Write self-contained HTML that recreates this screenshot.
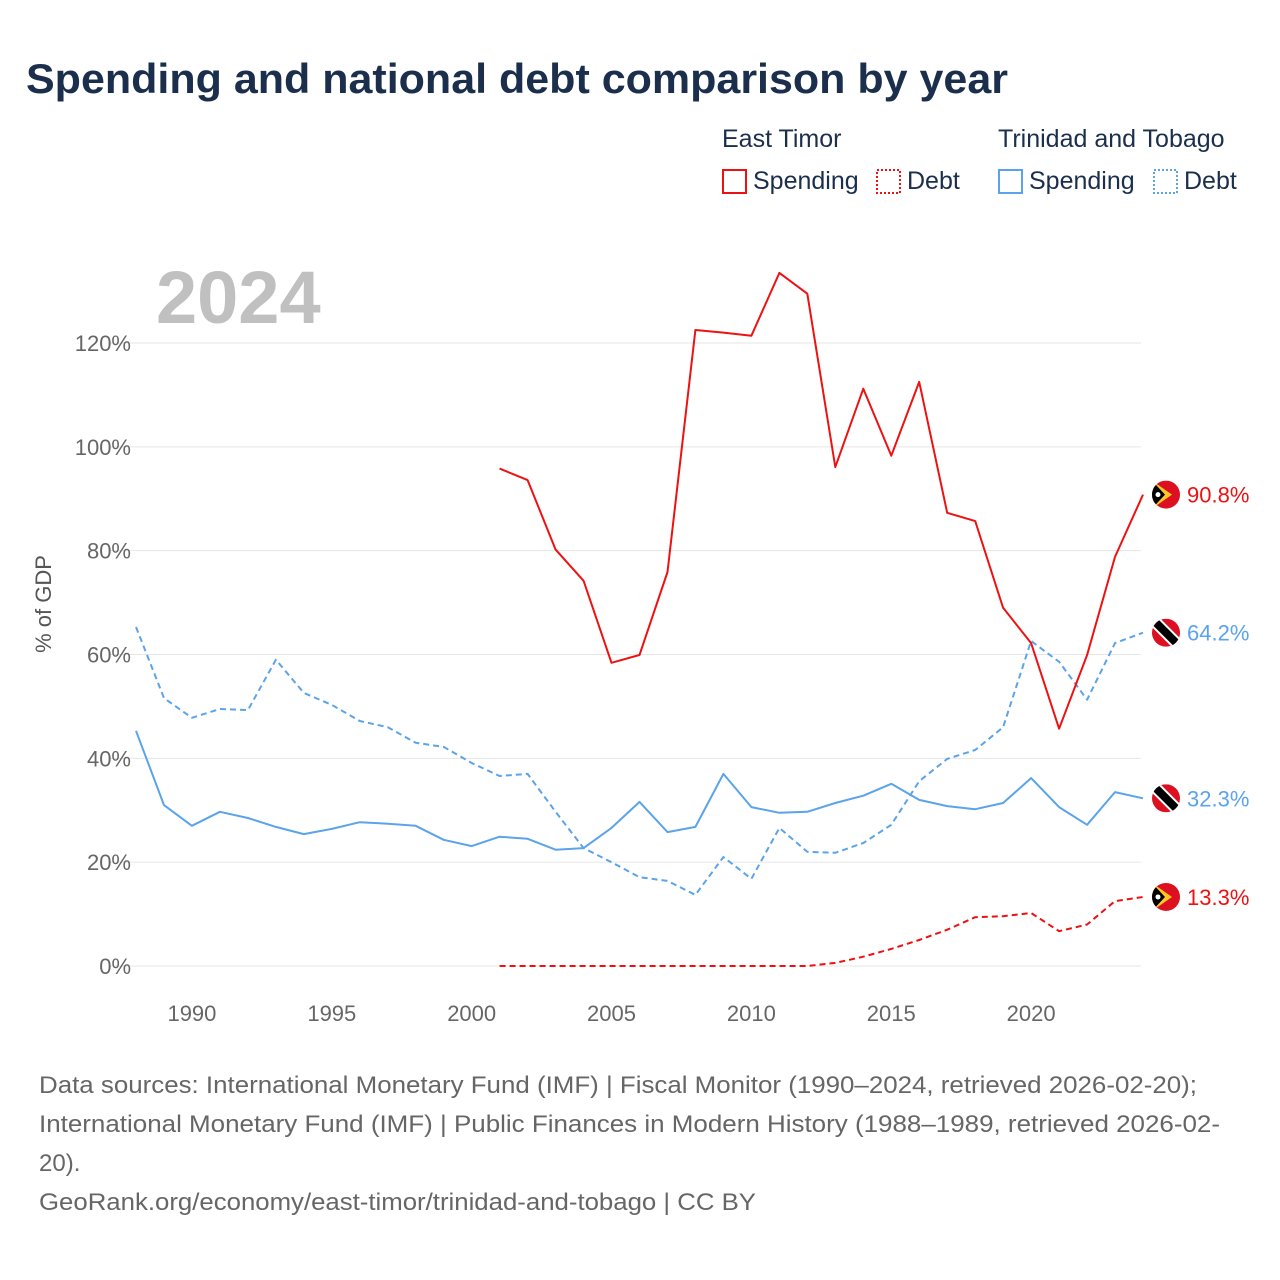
<!DOCTYPE html>
<html><head><meta charset="utf-8"><style>
body{margin:0;background:#fff;font-family:"Liberation Sans",sans-serif;}
#wrap{position:relative;width:1280px;height:1280px;overflow:hidden;}
</style></head><body>
<div id="wrap">
<svg id="chart" width="1280" height="1280" xmlns="http://www.w3.org/2000/svg">
<text x="26" y="93" font-size="42" font-weight="bold" fill="#1b2f4d" textLength="982" lengthAdjust="spacingAndGlyphs" font-family="Liberation Sans, sans-serif">Spending and national debt comparison by year</text>
<g font-size="25" fill="#1b2f4d">
<text x="722" y="147">East Timor</text>
<text x="998" y="147">Trinidad and Tobago</text>
<g><rect x="723" y="170" width="23" height="23" fill="none" stroke="#ee1111" stroke-width="2"/><text x="753" y="189">Spending</text></g>
<g><rect x="877" y="170" width="23" height="23" fill="none" stroke="#ee1111" stroke-width="2" stroke-dasharray="2,2"/><text x="907" y="189">Debt</text></g>
<g><rect x="999" y="170" width="23" height="23" fill="none" stroke="#5ba3ea" stroke-width="2"/><text x="1029" y="189">Spending</text></g>
<g><rect x="1154" y="170" width="23" height="23" fill="none" stroke="#5ba3ea" stroke-width="2" stroke-dasharray="2,2"/><text x="1184" y="189">Debt</text></g>
</g>
<text x="156" y="323" font-size="74" font-weight="bold" fill="#c0c0c0">2024</text>
<text transform="translate(51,604) rotate(-90)" text-anchor="middle" font-size="22" fill="#555">% of GDP</text>
<g id="grid"></g><g id="series"></g><g id="ends"></g>
<g font-size="24" fill="#666">
<text x="39" y="1093" textLength="1158" lengthAdjust="spacingAndGlyphs">Data sources: International Monetary Fund (IMF) | Fiscal Monitor (1990–2024, retrieved 2026-02-20);</text>
<text x="39" y="1132" textLength="1181" lengthAdjust="spacingAndGlyphs">International Monetary Fund (IMF) | Public Finances in Modern History (1988–1989, retrieved 2026-02-</text>
<text x="39" y="1171">20).</text>
<text x="39" y="1210" textLength="717" lengthAdjust="spacingAndGlyphs">GeoRank.org/economy/east-timor/trinidad-and-tobago | CC BY</text>
</g>
</svg></div>
<script>
const yTicks=[0,20,40,60,80,100,120];
const xTicks=[1990,1995,2000,2005,2010,2015,2020];
const etYears=[2001,2002,2003,2004,2005,2006,2007,2008,2009,2010,2011,2012,2013,2014,2015,2016,2017,2018,2019,2020,2021,2022,2023,2024];
const etSpending=[95.8,93.6,80.2,74.2,58.4,59.9,75.9,122.5,122,121.4,133.5,129.5,96.1,111.2,98.3,112.5,87.3,85.7,69,62.2,45.7,59.9,78.8,90.8];
const etDebt=[0,0,0,0,0,0,0,0,0,0,0,0,0.6,1.8,3.3,5,7,9.4,9.6,10.2,6.7,8,12.5,13.3];
const ttYears=[1988,1989,1990,1991,1992,1993,1994,1995,1996,1997,1998,1999,2000,2001,2002,2003,2004,2005,2006,2007,2008,2009,2010,2011,2012,2013,2014,2015,2016,2017,2018,2019,2020,2021,2022,2023,2024];
const ttSpending=[45.3,31,27,29.7,28.5,26.8,25.4,26.4,27.7,27.4,27,24.3,23.1,24.9,24.5,22.4,22.7,26.6,31.6,25.8,26.8,37,30.6,29.5,29.7,31.4,32.8,35.1,32,30.8,30.2,31.4,36.2,30.6,27.2,33.5,32.3];
const ttDebt=[65.3,51.6,47.8,49.5,49.3,59,52.6,50.3,47.2,46,43,42.2,39.1,36.6,37,29.7,22.7,20,17.1,16.4,13.7,21,16.8,26.6,22,21.8,23.7,27.2,35.6,39.9,41.6,46,62.6,58.6,51.3,62.2,64.2];
const NS="http://www.w3.org/2000/svg";
const X=y=>136+(y-1988)*(1143-136)/36;
const Y=v=>966-v*(966-343)/120;
function mk(t,a,p){const e=document.createElementNS(NS,t);for(const k in a)e.setAttribute(k,a[k]);p.appendChild(e);return e;}
const grid=document.getElementById('grid');
yTicks.forEach(v=>{
 const l=mk('line',{x1:110,x2:1141,y1:Y(v),y2:Y(v),stroke:'#e6e6e6','stroke-width':1},grid);
 
 
 const t=mk('text',{x:131,y:Y(v)+8,'text-anchor':'end','font-size':22,fill:'#666'},grid);
 t.textContent=v+'%';
 
 
});
xTicks.forEach(v=>{
 const t=mk('text',{x:X(v),y:1021,'text-anchor':'middle','font-size':22,fill:'#666'},grid);
 t.textContent=v;
 
 
});
const ser=document.getElementById('series');
function line(xs,vs,color,dash,name){
 const d=xs.map((x,i)=>(i?'L':'M')+X(x).toFixed(1)+','+Y(vs[i]).toFixed(1)).join('');
 const p=mk('path',{d:d,fill:'none',stroke:color,'stroke-width':2,'stroke-dasharray':dash||'none','stroke-linejoin':'round'},ser);
 
 
}
line(ttYears,ttDebt,'#5ba3ea','6,4','line-tt-debt');
line(ttYears,ttSpending,'#5ba3ea','','line-tt-spending');
line(etYears,etDebt,'#ee1111','6,4','line-et-debt');
line(etYears,etSpending,'#ee1111','','line-et-spending');
const ends=document.getElementById('ends');
function endLabel(v,color,flag,name){
 const cx=1166,cy=Y(v);
 const g=mk('g',{},ends);
 
 
 const cid='c'+name;
 const cp=mk('clipPath',{id:cid},g);mk('circle',{cx:cx,cy:cy,r:14},cp);
 const f=mk('g',{'clip-path':'url(#'+cid+')'},g);
 mk('rect',{x:cx-14,y:cy-14,width:28,height:28,fill:'#dc1020'},f);
 if(flag==='et'){
  mk('polygon',{points:`${cx-14},${cy-14} ${cx+6},${cy} ${cx-14},${cy+14}`,fill:'#ffc726'},f);
  mk('polygon',{points:`${cx-14},${cy-14} ${cx-1},${cy} ${cx-14},${cy+14}`,fill:'#000'},f);
  mk('circle',{cx:cx-8,cy:cy,r:2.5,fill:'#fff'},f);
 }else{
  mk('line',{x1:cx-16,y1:cy-16,x2:cx+16,y2:cy+16,stroke:'#fff','stroke-width':12},f);
  mk('line',{x1:cx-16,y1:cy-16,x2:cx+16,y2:cy+16,stroke:'#000','stroke-width':8},f);
 }
 const t=mk('text',{x:1187,y:cy+8,'font-size':22,fill:color},g);
 t.textContent=v.toFixed(1)+'%';
}
endLabel(etSpending[etSpending.length-1],'#ee1111','et','end-label-et-spending');
endLabel(ttDebt[ttDebt.length-1],'#5ba3ea','tt','end-label-tt-debt');
endLabel(ttSpending[ttSpending.length-1],'#5ba3ea','tt','end-label-tt-spending');
endLabel(etDebt[etDebt.length-1],'#ee1111','et','end-label-et-debt');
</script>
</body></html>
